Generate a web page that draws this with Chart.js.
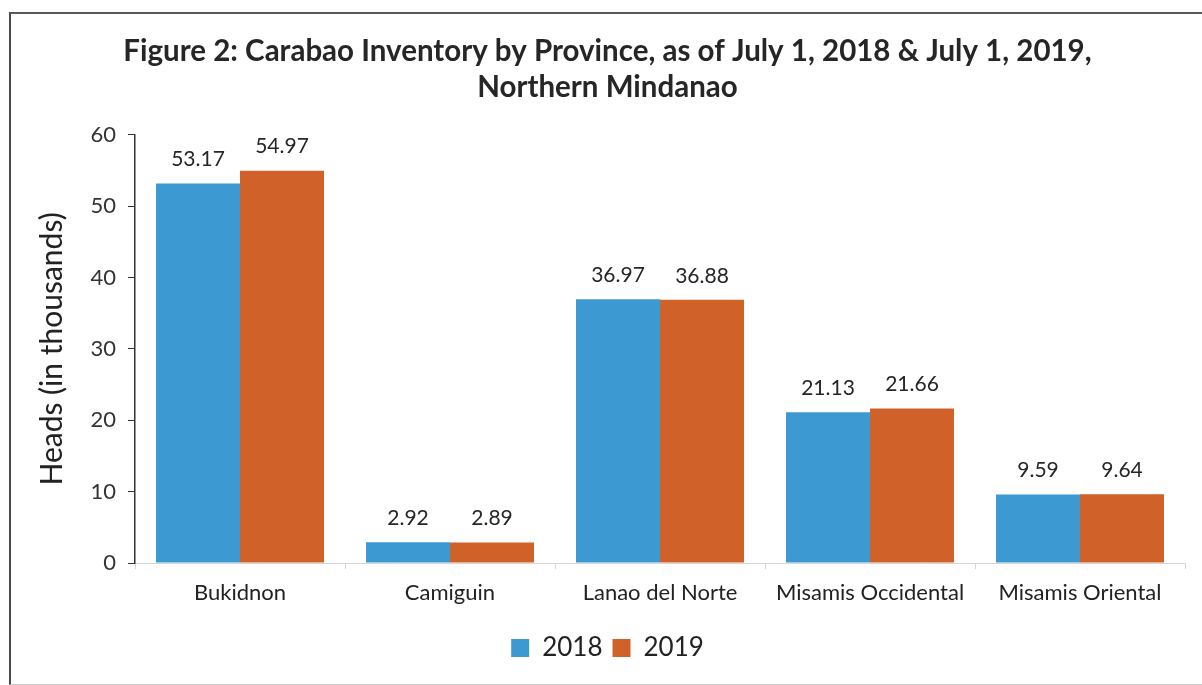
<!DOCTYPE html>
<html>
<head>
<meta charset="utf-8">
<script src="https://cdn.jsdelivr.net/npm/chart.js@4/dist/chart.umd.min.js"></script>
<style>
  html, body { margin: 0; padding: 0; background: #fff; }
  #wrap { position: relative; width: 1202px; height: 685px; overflow: hidden; }
  #chart { position: absolute; left: 0; top: 0; }
  #frame {
    position: absolute; left: 9px; top: 12px; width: 1200px; height: 670px;
    border-left: 2px solid #4a4a4a; border-top: 2px solid #5a5a5a;
    border-bottom: 1px solid #c8c8c8; pointer-events: none;
  }
</style>
</head>
<body>
<div id="wrap">
  <canvas id="chart" width="1202" height="685"></canvas>
  <div id="frame"></div>
</div>
<script>
// Carabao inventory (thousand heads) per province
const provinces = ['Bukidnon', 'Camiguin', 'Lanao del Norte', 'Misamis Occidental', 'Misamis Oriental'];
const heads2018 = [53.17, 2.92, 36.97, 21.13, 9.59];
const heads2019 = [54.97, 2.89, 36.88, 21.66, 9.64];
const seriesNames = ['2018', '2019'];
const yTicks = [0, 10, 20, 30, 40, 50, 60];

const FONT = 'Lato, "Open Sans", sans-serif';

// Writes each bar's value just above it
const valueLabels = {
  id: 'valueLabels',
  afterDatasetsDraw(chart) {
    const ctx = chart.ctx;
    ctx.save();
    ctx.font = '21px ' + FONT;
    ctx.fillStyle = '#262626';
    ctx.textAlign = 'center';
    ctx.textBaseline = 'middle';
    chart.data.datasets.forEach((ds, i) => {
      chart.getDatasetMeta(i).data.forEach((bar, j) => {
        ctx.fillText(ds.data[j].toFixed(2), bar.x, bar.y - 24);
      });
    });
    ctx.restore();
  }
};

new Chart(document.getElementById('chart'), {
  type: 'bar',
  data: {
    labels: provinces,
    datasets: [
      { label: seriesNames[0], data: heads2018, backgroundColor: '#3d99d2' },
      { label: seriesNames[1], data: heads2019, backgroundColor: '#cf6129' }
    ]
  },
  options: {
    responsive: false,
    animation: false,
    devicePixelRatio: 1,
    layout: { padding: { left: 30, right: 17, top: 0, bottom: 14 } },
    datasets: { bar: { categoryPercentage: 0.8, barPercentage: 1.0 } },
    plugins: {
      title: {
        display: true,
        text: ['Figure 2: Carabao Inventory by Province, as of July 1, 2018 & July 1, 2019,', 'Northern Mindanao'],
        font: { family: FONT, size: 29.5, weight: 'bold', lineHeight: 1.2 },
        color: '#262626',
        padding: { top: 34, bottom: 30 }
      },
      legend: {
        position: 'bottom',
        labels: {
          font: { family: FONT, size: 26 },
          color: '#222',
          boxWidth: 18,
          boxHeight: 18,
          padding: 10
        }
      },
      tooltip: { enabled: false }
    },
    scales: {
      x: {
        afterFit(scale) { scale.height = 62; },
        grid: { display: true, drawOnChartArea: false, drawTicks: true, tickLength: 6, color: '#d6d6d6' },
        border: { color: '#d6d6d6', width: 1 },
        ticks: { font: { family: FONT, size: 22 }, color: '#222', padding: 11, maxRotation: 0 }
      },
      y: {
        min: 0,
        max: 60,
        afterFit(scale) { scale.width = 105; },
        afterBuildTicks(scale) { scale.ticks = yTicks.map(v => ({ value: v })); },
        grid: { display: true, drawOnChartArea: false, drawTicks: true, tickLength: 7, color: '#333' },
        border: { color: '#333', width: 1.5 },
        ticks: { font: { family: FONT, size: 22 }, color: '#333', padding: 12 },
        title: {
          display: true,
          text: 'Heads (in thousands)',
          font: { family: FONT, size: 30 },
          color: '#222',
          padding: { top: 4, bottom: 0 }
        }
      }
    }
  },
  plugins: [valueLabels]
});
</script>
</body>
</html>
